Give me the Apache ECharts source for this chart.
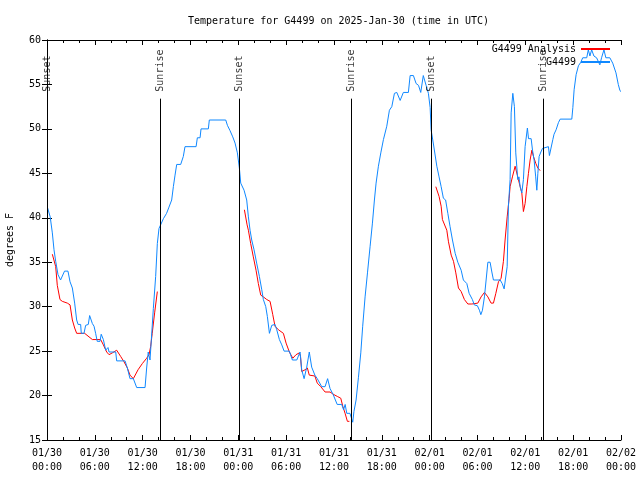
<!DOCTYPE html>
<html>
<head>
<meta charset="utf-8">
<script src="https://cdn.jsdelivr.net/npm/echarts@6/dist/echarts.min.js"></script>
<style>html,body{margin:0;padding:0;background:#fff}#c{width:640px;height:480px}</style>
</head>
<body>
<div id="c"></div>
<script>
// ---- data (hours since 2025-01-30 00:00 UTC, degrees F) ----
const tickLabels = ['01/30\n00:00','01/30\n06:00','01/30\n12:00','01/30\n18:00','01/31\n00:00','01/31\n06:00','01/31\n12:00','01/31\n18:00','02/01\n00:00','02/01\n06:00','02/01\n12:00','02/01\n18:00','02/02\n00:00'];

const analysisHours = [0.67,0.88,1.09,1.29,1.63,1.92,2.55,2.89,3.18,3.47,3.72,4.72,5.69,6.73,7.07,7.49,7.78,8.2,8.74,9.24,9.66,10.08,10.41,10.83,11.42,11.96,12.5,12.8,13.0,13.2,13.5,13.84,
  13.9,
  24.76,24.95,25.1,25.26,25.55,25.88,26.22,26.51,26.81,27.14,27.57,27.98,28.32,28.6,29.03,29.65,29.99,30.4,30.83,31.24,31.66,31.8,31.95,32.37,32.66,32.9,33.6,33.9,34.34,34.88,35.5,36.0,36.42,36.85,37.1,37.39,37.68,37.93,
  38.0,
  48.77,49.02,49.18,49.44,49.6,49.85,50.15,50.36,50.7,50.99,51.28,51.61,51.95,52.36,52.79,53.29,54.04,54.45,54.87,55.3,55.7,56.0,56.3,56.63,56.96,57.25,57.46,57.72,57.97,58.09,58.38,58.72,58.93,59.13,59.35,59.56,59.76,59.97,60.19,60.39,60.6,60.82,61.02,61.32,61.57,61.86];
const analysisTemps = [35.9,35.9,34.5,32.4,30.8,30.6,30.4,30.2,28.5,27.6,27.0,27.0,26.3,26.3,25.7,24.9,24.6,24.8,25.1,24.4,23.8,23.1,22.3,21.9,22.9,23.6,24.2,24.6,25.5,27.0,29.3,31.7,
  null,
  40.9,40.9,39.2,38.6,37.1,35.6,34.1,32.6,31.3,31.1,30.8,30.6,29.1,27.8,27.4,27.0,25.9,24.9,24.2,24.6,24.8,24.4,22.7,22.9,23.1,22.3,22.2,21.4,21.0,20.4,20.4,20.1,19.9,19.7,18.8,18.0,17.1,17.1,
  null,
  43.5,43.5,42.4,41.3,39.8,39.6,38.6,37.3,35.8,35.1,33.8,32.1,31.7,30.8,30.3,30.3,30.4,31.1,31.6,31.1,30.4,30.4,31.5,32.8,33.2,35.1,37.5,40.1,42.2,43.5,44.6,45.8,45.9,44.3,43.5,42.8,40.7,41.6,43.5,45.0,46.5,47.6,46.9,46.1,45.6,45.3];

const obsHours = [0.08,0.4,0.67,0.88,1.09,1.38,1.7,2.2,2.63,2.89,3.18,3.47,3.72,3.9,4.22,4.3,4.64,4.85,5.18,5.35,5.69,5.9,6.1,6.3,6.65,6.8,7.07,7.36,7.65,7.78,8.62,8.74,9.79,10.08,10.41,10.83,11.25,12.3,12.5,12.7,12.92,13.09,13.34,13.63,13.84,14.05,14.6,15.0,15.3,15.64,15.85,16.06,16.27,16.77,17.1,17.31,18.7,18.86,19.2,19.32,20.24,20.36,22.42,22.63,22.96,23.3,23.59,23.88,24.13,24.3,24.72,25.05,25.26,25.47,25.68,25.97,26.3,26.64,26.94,27.14,27.44,27.64,27.9,28.19,28.6,28.82,29.15,29.45,29.74,30.4,30.78,31.33,31.74,31.95,32.25,32.58,32.9,33.2,33.6,33.9,34.46,34.88,35.2,35.5,35.9,36.4,36.97,37.2,37.4,37.6,38.0,38.35,38.5,38.77,39.06,39.36,39.6,39.9,40.2,40.53,40.82,41.07,41.28,41.57,41.87,42.2,42.62,42.95,43.25,43.58,43.88,44.3,44.7,45.33,45.55,45.96,46.3,46.6,46.88,47.2,47.55,47.84,48.06,48.18,48.47,48.9,49.18,49.44,49.72,50.0,50.28,50.56,50.86,51.2,51.53,51.95,52.23,52.66,52.95,53.36,53.6,53.99,54.24,54.42,54.62,54.87,55.08,55.3,55.58,55.8,56.0,56.84,57.1,57.34,57.59,57.72,57.88,58.09,58.22,58.43,58.63,58.8,59.05,59.2,59.35,59.56,59.76,59.97,60.26,60.4,60.73,60.9,61.1,61.3,61.44,61.57,61.73,61.95,62.15,62.4,62.9,63.02,63.24,63.45,63.6,63.86,64.15,64.37,65.83,65.96,66.12,66.37,66.66,66.96,67.2,67.7,67.9,68.1,68.32,68.6,68.94,69.35,69.56,69.86,70.1,70.6,70.96,71.37,71.66,71.87,72.0];
const obsTemps = [41.1,40.1,38.3,36.4,35.1,33.6,33.0,34.0,34.0,32.8,32.1,30.4,28.5,28.0,28.0,27.0,27.0,27.9,28.0,29.0,28.1,27.8,27.0,26.1,26.1,26.9,26.3,25.1,25.4,24.9,24.9,23.9,23.9,23.1,21.9,21.9,20.9,20.9,23.1,24.9,24.0,26.3,29.8,33.4,37.1,38.8,39.9,40.5,41.2,42.0,43.5,44.8,46.0,46.0,46.9,48.0,48.0,49.0,49.0,50.0,50.0,51.0,51.0,50.4,49.8,49.1,48.4,47.3,45.6,43.9,43.1,42.0,40.1,38.6,37.5,36.4,34.9,33.4,31.9,30.8,30.0,28.9,27.0,27.9,28.0,27.4,26.3,25.7,25.0,25.0,24.0,24.0,24.9,22.9,21.9,23.2,24.9,23.2,22.3,21.9,21.0,21.0,21.9,20.8,20.1,19.0,19.0,18.4,19.0,18.0,18.0,17.0,18.2,19.5,22.0,24.8,27.8,31.1,33.8,36.8,39.4,42.0,43.9,45.8,47.3,48.8,50.3,52.1,52.5,54.0,54.1,53.2,54.1,54.1,56.0,56.0,55.1,54.9,54.1,56.0,54.9,54.0,52.4,49.9,48.3,45.8,44.6,43.5,42.2,42.0,40.5,39.0,37.5,36.0,35.0,34.1,33.0,32.6,31.5,30.8,30.2,30.1,29.6,29.1,29.6,31.1,33.0,35.0,35.0,33.9,33.0,33.0,32.6,32.0,32.0,34.5,41.3,44.3,51.8,54.0,52.5,47.3,44.3,44.6,43.5,42.8,44.3,48.0,50.1,48.9,48.9,47.6,46.5,44.6,43.1,45.0,46.9,47.4,47.8,48.0,48.0,47.0,47.0,48.8,49.4,49.9,50.7,51.1,51.1,52.4,54.4,56.1,57.1,57.5,58.0,58.0,58.9,58.2,58.9,58.2,58.0,57.2,58.0,58.9,58.0,58.0,57.4,56.3,55.0,54.3,54.2];

const sunEventHours = [0.06, 14.22, 24.13, 38.18, 48.21, 62.25];
const sunEventNames = ['Sunset','Sunrise','Sunset','Sunrise','Sunset','Sunrise'];
const sunLineTop = 53.4;
const yMin = 15, yMax = 60;

// ---- build ----
const zip = (xs, ys) => xs.map((x, i) => [x, ys[i] === null ? null : ys[i]]);
const FONT = 'DejaVu Sans Mono';
const tickCommon = {
  axisLine: {show: true, lineStyle: {color: '#000', width: 1}},
  axisTick: {show: true, inside: true, length: 5, lineStyle: {color: '#000'}},
  splitLine: {show: false}
};

const chart = echarts.init(document.getElementById('c'), null, {renderer: 'canvas'});
chart.setOption({
  animation: false,
  backgroundColor: '#fff',
  title: {
    text: 'Temperature for G4499 on 2025-Jan-30 (time in UTC)',
    left: 183, top: 11,
    textStyle: {fontFamily: FONT, fontSize: 10, fontWeight: 'normal', color: '#000'}
  },
  legend: {
    data: ['G4499 Analysis', 'G4499'],
    orient: 'vertical', right: 30, top: 43, align: 'right',
    icon: 'rect', itemWidth: 29, itemHeight: 2, itemGap: 1,
    textStyle: {fontFamily: FONT, fontSize: 10, color: '#000', lineHeight: 12},
    padding: 0
  },
  grid: {left: 47, right: 19, top: 40, bottom: 40, containLabel: false, outerBoundsMode: 'none'},
  xAxis: [
    Object.assign({
      type: 'value', min: 0, max: 72, interval: 6, position: 'bottom',
      minorTick: {show: true, splitNumber: 3, length: 3, lineStyle: {color: '#000'}},
      axisLabel: {
        formatter: v => tickLabels[Math.round(v / 6)] || '',
        fontFamily: FONT, fontSize: 10, color: '#000', lineHeight: 14, margin: 6
      }
    }, tickCommon),
    Object.assign({
      type: 'value', min: 0, max: 72, interval: 6, position: 'top',
      minorTick: {show: true, splitNumber: 3, length: 3, lineStyle: {color: '#000'}},
      axisLabel: {show: false}
    }, tickCommon)
  ],
  yAxis: [
    Object.assign({
      type: 'value', min: yMin, max: yMax, interval: 5, position: 'left',
      name: 'degrees F', nameLocation: 'middle', nameGap: 32,
      nameTextStyle: {fontFamily: FONT, fontSize: 10, color: '#000'},
      axisLabel: {fontFamily: FONT, fontSize: 10, color: '#000', margin: 6}
    }, tickCommon),
    Object.assign({
      type: 'value', min: yMin, max: yMax, interval: 5, position: 'right',
      axisLabel: {show: false}
    }, tickCommon)
  ],
  series: [
    {
      name: 'G4499 Analysis', type: 'line', showSymbol: false, symbol: 'none',
      connectNulls: false,
      data: zip(analysisHours, analysisTemps),
      lineStyle: {color: '#ff0000', width: 1}, itemStyle: {color: '#ff0000'}, z: 2
    },
    {
      name: 'G4499', type: 'line', showSymbol: false, symbol: 'none',
      data: zip(obsHours, obsTemps),
      lineStyle: {color: '#0f88ff', width: 1}, itemStyle: {color: '#0f88ff'}, z: 3
    },
    {
      name: 'sun', type: 'scatter', symbolSize: 0, silent: true, z: 5,
      data: sunEventHours.map((h, i) => ({value: [h, sunLineTop], name: sunEventNames[i]})),
      label: {
        show: true, position: 'top', distance: 7, rotate: 90,
        align: 'left', verticalAlign: 'middle',
        formatter: p => p.name,
        fontFamily: FONT, fontSize: 10, color: '#000'
      },
      markLine: {
        silent: true, symbol: 'none', animation: false,
        label: {show: false},
        lineStyle: {color: '#000', type: 'solid', width: 1},
        data: sunEventHours.map(h => [{coord: [h, yMin]}, {coord: [h, sunLineTop]}])
      }
    }
  ]
});
</script>
</body>
</html>
